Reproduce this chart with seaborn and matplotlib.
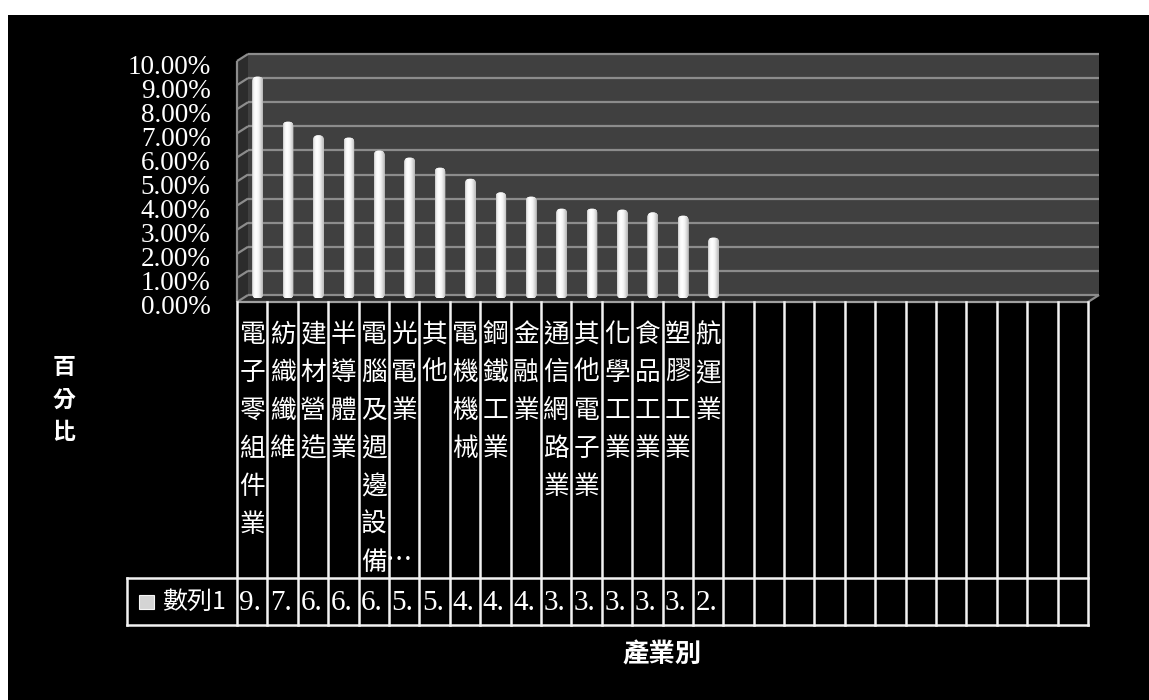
import numpy as np
import pandas as pd
import matplotlib
matplotlib.use("Agg")
import matplotlib.pyplot as plt
import seaborn as sns
from matplotlib.lines import Line2D
from matplotlib.patches import Polygon, Rectangle, FancyBboxPatch
from matplotlib.ticker import PercentFormatter
from matplotlib.transforms import IdentityTransform, ScaledTranslation

# ---- data ----
industries = ["電子零組件業", "紡織纖維", "建材營造", "半導體業", "電腦及週邊設備業",
              "光電業", "其他", "電機機械", "鋼鐵工業", "金融業", "通信網路業",
              "其他電子業", "化學工業", "食品工業", "塑膠工業", "航運業"]
shares = [0.0921, 0.0734, 0.0677, 0.0668, 0.0614, 0.0585, 0.0543, 0.0497,
          0.0440, 0.0423, 0.0373, 0.0373, 0.0369, 0.0357, 0.0344, 0.0253]
series_name = "數列1"
y_ticks = [0.00, 0.01, 0.02, 0.03, 0.04, 0.05, 0.06, 0.07, 0.08, 0.09, 0.10]
y_title = "百分比"
x_title = "產業別"
n_slots = 28          # category slots on the axis; the trailing ones stay empty

df = pd.DataFrame({"industry": industries, "share": shares})

# ---- layout (pixels, origin at top-left) ----
W, H, DPI = 1149, 700, 100
FRONT_L, FRONT_R, FRONT_T, FRONT_B = 237, 1088, 61, 302   # front face of the box
DX, DY = 5.5, 3.5                                          # half of the 3-D depth
TABLE_L, ROW_T, TABLE_B = 127, 578, 625
MAX_LINES = 7

CJK = ["Noto Sans CJK TC", "DejaVu Sans"]
SERIF = ["Liberation Serif", "DejaVu Serif"]

sns.set_theme(style="white")
plt.rcParams["font.family"] = CJK
plt.rcParams["axes.unicode_minus"] = False

fig = plt.figure(figsize=(W / DPI, H / DPI), dpi=DPI, facecolor="white")


def fig_box(l, t, r, b):
    return [l / W, 1 - b / H, (r - l) / W, (b - t) / H]


# black chart area
fig.add_artist(Rectangle((8 / W, 0), 1 - 8 / W, 1 - 15 / H, transform=fig.transFigure,
                         facecolor="black", edgecolor="none", zorder=-5))

# ---- bars on the mid-depth plane ----
ax = fig.add_axes(fig_box(FRONT_L + DX, FRONT_T - DY, FRONT_R + DX, FRONT_B - DY), zorder=2)
ax.set_facecolor("none")
sns.barplot(data=df, x="industry", y="share", color="white", saturation=1,
            width=0.35, errorbar=None, linewidth=0, ax=ax)
ax.set_xlim(-0.5, n_slots - 0.5)
ax.set_ylim(0, 0.10)
ax.set_xticks([])
ax.set_xlabel("")
ax.set_ylabel("")
ax.set_yticks(y_ticks)
ax.yaxis.set_major_formatter(PercentFormatter(1.0, decimals=2))
ax.tick_params(axis="y", length=0, pad=23, labelsize=19.5, labelcolor="white")
for lab in ax.get_yticklabels():
    lab.set_fontfamily(SERIF)
    lab.set_transform(lab.get_transform()
                      + ScaledTranslation(0, -6.5 / DPI, fig.dpi_scale_trans))
for s in ax.spines.values():
    s.set_visible(False)
ax.grid(False)

ident = IdentityTransform()

# cylinder shading for each bar
shade = np.interp(np.linspace(0, 1, 64), [0, 0.15, 0.35, 0.6, 0.8, 1.0],
                  [0.78, 0.95, 1.0, 0.96, 0.85, 0.70])
for bar in list(ax.patches):
    x0, w, h = bar.get_x(), bar.get_width(), bar.get_height()
    (X0, Y0), (X1, Y1) = ax.transData.transform([(x0, 0), (x0 + w, h)])
    rr = FancyBboxPatch((X0, Y0), X1 - X0, Y1 - Y0,
                        boxstyle=f"round,pad=0,rounding_size={(X1 - X0) * 0.45}",
                        transform=ident)
    bar.set_clip_path(rr)
    im = ax.imshow(shade[None, :], extent=(x0, x0 + w, 0, h), cmap="gray",
                   vmin=0, vmax=1, aspect="auto", interpolation="bilinear", zorder=3)
    im.set_clip_path(rr)
ax.set_xlim(-0.5, n_slots - 0.5)
ax.set_ylim(0, 0.10)

# ---- 3-D box: back wall, side wall and floor ----
x_lo, x_hi = ax.get_xlim()
y_lo, y_hi = ax.get_ylim()


def disp(xd, yd, depth):
    X, Y = ax.transData.transform((xd, yd))
    return (X + depth * DX, Y + depth * DY)


def poly(pts, fc, z=1):
    fig.add_artist(Polygon(pts, closed=True, transform=ident, facecolor=fc,
                           edgecolor="none", zorder=z))


def seg(p, q, color="#8c8c8c", lw=1.6, z=1.5):
    fig.add_artist(Line2D([p[0], q[0]], [p[1], q[1]], transform=ident, color=color,
                          lw=lw, zorder=z, solid_capstyle="butt"))


poly([disp(x_lo, y_lo, 1), disp(x_hi, y_lo, 1), disp(x_hi, y_hi, 1), disp(x_lo, y_hi, 1)], "#404040")
poly([disp(x_lo, y_lo, -1), disp(x_lo, y_lo, 1), disp(x_lo, y_hi, 1), disp(x_lo, y_hi, -1)], "#2c2c2c")
poly([disp(x_lo, y_lo, -1), disp(x_hi, y_lo, -1), disp(x_hi, y_lo, 1), disp(x_lo, y_lo, 1)], "#2a2a2a")
for v in y_ticks:
    seg(disp(x_lo, v, 1), disp(x_hi, v, 1))
    seg(disp(x_lo, v, -1), disp(x_lo, v, 1))
seg(disp(x_lo, y_lo, -1), disp(x_lo, y_hi, -1))
seg(disp(x_lo, y_lo, -1), disp(x_hi, y_lo, -1), color="#a0a0a0")
seg(disp(x_hi, y_lo, -1), disp(x_hi, y_lo, 1))

# ---- category / data table below the plot ----
colw = (FRONT_R - FRONT_L) / n_slots
tx = fig.add_axes(fig_box(TABLE_L, FRONT_B, FRONT_R, TABLE_B), zorder=2)
tx.set_xlim(-0.5 - (FRONT_L - TABLE_L) / colw, n_slots - 0.5)
tx.set_ylim(TABLE_B, FRONT_B)
tx.axis("off")
xl = tx.get_xlim()[0]
line_kw = dict(color="#f2f2f2", lw=1.8, clip_on=False, solid_capstyle="projecting")
for k in range(n_slots + 1):
    tx.plot([k - 0.5, k - 0.5], [FRONT_B, TABLE_B], **line_kw)
tx.plot([xl, n_slots - 0.5], [ROW_T, ROW_T], **line_kw)
tx.plot([xl, n_slots - 0.5], [TABLE_B, TABLE_B], **line_kw)
tx.plot([xl, xl], [ROW_T, TABLE_B], **line_kw)

# vertical category names, cut off with an ellipsis when the cell is full
cut_labels = []
for i, name in enumerate(industries):
    t = tx.text(i - 0.5 + 2.5 / colw, FRONT_B + 20, "\n".join(name[:MAX_LINES]),
                ha="left", va="top", multialignment="left", color="white",
                fontsize=18.5, linespacing=1.6, family=CJK)
    if len(name) > MAX_LINES:
        cut_labels.append(t)

fig.canvas.draw()
renderer = fig.canvas.get_renderer()
for t in cut_labels:
    bb = t.get_window_extent(renderer)
    fig.text(bb.x1 - 1, bb.y0 + 15, "…", transform=ident, ha="left", va="center",
             color="white", fontsize=19, family=CJK)

row_mid = (ROW_T + TABLE_B) / 2
for i, v in enumerate(shares):
    tx.text(i - 0.5 + 2.5 / colw, row_mid + 1, f"{v:.2%}"[:2], ha="left", va="center",
            color="white", fontsize=21, family=SERIF)

tx.add_patch(Rectangle((xl + 12 / colw, row_mid - 7), 15 / colw, 14,
                       facecolor="#d4d4d4", edgecolor="#f5f5f5", lw=0.8, clip_on=False))
tx.text(xl + 35 / colw, row_mid, series_name, ha="left", va="center",
        color="white", fontsize=18, family=CJK)

# ---- axis titles ----
fig.text(64 / W, 1 - 400 / H, "\n".join(y_title), ha="center", va="center",
         color="white", fontsize=16.5, fontweight="bold", linespacing=1.55, family=CJK)
fig.text(662 / W, 1 - 655 / H, x_title, ha="center", va="center",
         color="white", fontsize=19, fontweight="bold", family=CJK)

fig.savefig("out.png", dpi=DPI, facecolor=fig.get_facecolor())
